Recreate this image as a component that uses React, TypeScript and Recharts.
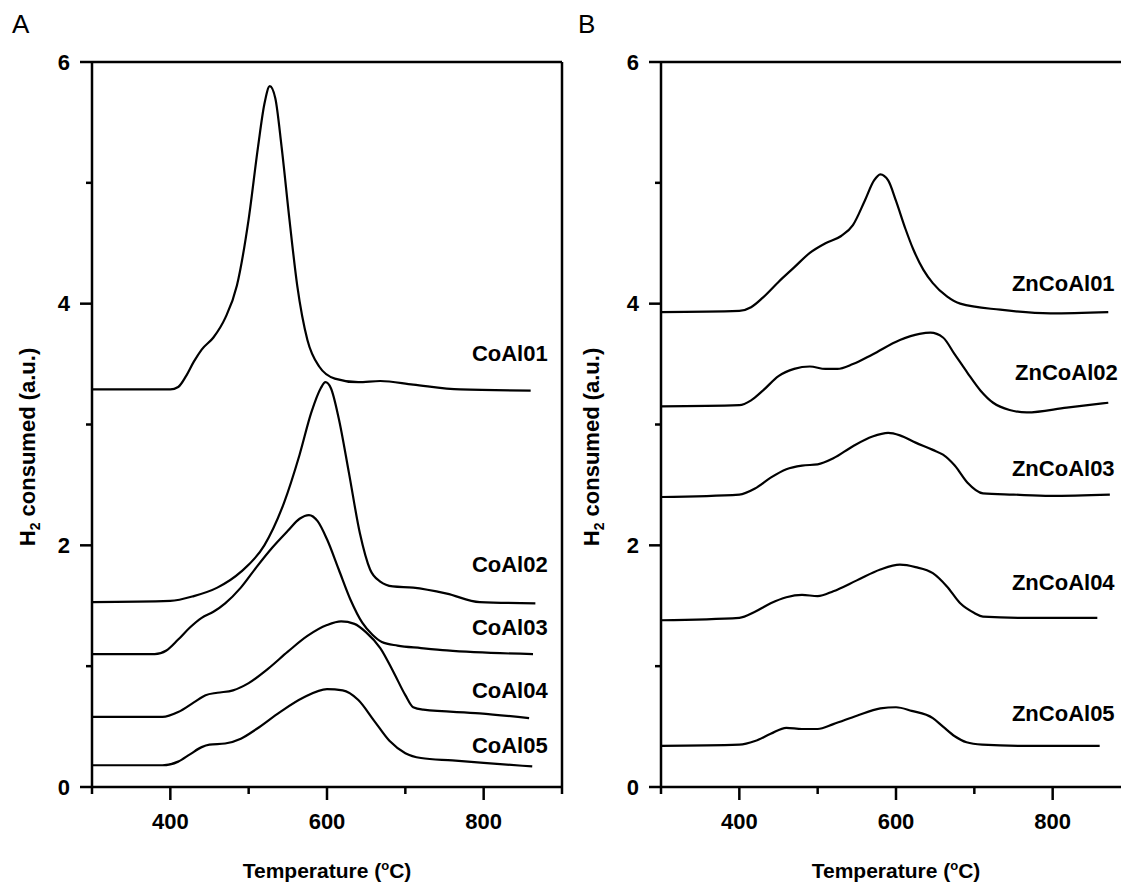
import React from 'react';
import { LineChart, Line, XAxis, YAxis, ReferenceLine, ReferenceDot } from 'recharts';

const FONT = '"Liberation Sans", Arial, Helvetica, sans-serif';

const X_TICKS = [300, 400, 500, 600, 700, 800, 900];
const X_LABELED = [400, 600, 800];
const Y_TICKS = [0, 1, 2, 3, 4, 5, 6];
const Y_LABELED = [0, 2, 4, 6];

// panel A
const CoAl01_T = [300, 400, 410, 420, 430, 440, 455, 470, 485, 500, 512, 520, 527, 534, 542, 552, 562, 575, 590, 610, 640, 668, 710, 770, 860];
const CoAl01_V = [3.29, 3.29, 3.31, 3.4, 3.52, 3.62, 3.72, 3.88, 4.15, 4.7, 5.3, 5.65, 5.8, 5.7, 5.3, 4.7, 4.15, 3.7, 3.48, 3.38, 3.35, 3.36, 3.33, 3.29, 3.28];
const CoAl02_T = [300, 400, 430, 460, 490, 520, 545, 565, 580, 592, 598, 605, 615, 628, 642, 655, 668, 684, 710, 753, 795, 866];
const CoAl02_V = [1.53, 1.54, 1.58, 1.65, 1.78, 2.0, 2.35, 2.75, 3.1, 3.3, 3.35, 3.3, 3.05, 2.6, 2.1, 1.8, 1.7, 1.66, 1.65, 1.6, 1.53, 1.52];
const CoAl03_T = [300, 380, 395, 410, 425, 440, 455, 470, 490, 510, 530, 550, 565, 577, 588, 600, 615, 630, 645, 658, 670, 690, 720, 753, 863];
const CoAl03_V = [1.1, 1.1, 1.13, 1.22, 1.32, 1.4, 1.45, 1.52, 1.65, 1.82, 1.98, 2.12, 2.22, 2.25, 2.2, 2.05, 1.8, 1.55, 1.36, 1.26, 1.2, 1.17, 1.15, 1.13, 1.1];
const CoAl04_T = [300, 390, 410, 430, 445, 460, 480, 500, 525, 550, 575, 600, 618, 635, 650, 668, 685, 700, 710, 723, 795, 858];
const CoAl04_V = [0.58, 0.58, 0.62, 0.7, 0.76, 0.78, 0.8, 0.86, 0.98, 1.12, 1.25, 1.34, 1.37, 1.35, 1.28, 1.15, 0.95, 0.76, 0.66, 0.64, 0.61, 0.57];
const CoAl05_T = [300, 390, 410, 425, 440, 450, 470, 490, 510, 540, 570, 600, 620, 640, 660, 680, 700, 720, 760, 800, 862];
const CoAl05_V = [0.18, 0.18, 0.21, 0.27, 0.33, 0.35, 0.36, 0.4, 0.48, 0.62, 0.74, 0.81, 0.8, 0.72, 0.55, 0.38, 0.28, 0.24, 0.22, 0.2, 0.17];

// panel B
const Zn01_T = [300, 400, 415, 430, 450, 470, 490, 510, 530, 545, 560, 572, 580, 590, 600, 612, 622, 635, 647, 665, 682, 733, 797, 871];
const Zn01_V = [3.93, 3.94, 3.97, 4.05, 4.18, 4.3, 4.42, 4.5, 4.56, 4.65, 4.85, 5.02, 5.07, 5.02, 4.85, 4.62, 4.45, 4.28, 4.17, 4.06, 4.0, 3.95, 3.92, 3.93];
const Zn02_T = [300, 400, 415, 430, 450, 470, 490, 510, 525, 545, 570, 605, 630, 644, 660, 675, 691, 708, 724, 745, 767, 818, 871];
const Zn02_V = [3.15, 3.16, 3.2, 3.28, 3.4, 3.46, 3.48, 3.46, 3.46, 3.5, 3.58, 3.7, 3.75, 3.76, 3.72, 3.58, 3.43, 3.28, 3.18, 3.12, 3.1, 3.14, 3.18];
const Zn03_T = [300, 400, 420, 440, 460, 480, 500, 520, 545, 570, 590, 605, 625, 647, 660, 675, 691, 711, 750, 797, 873];
const Zn03_V = [2.4, 2.42, 2.47, 2.56, 2.63, 2.66, 2.67, 2.72, 2.82, 2.9, 2.93, 2.91, 2.85, 2.79, 2.75, 2.66, 2.52, 2.43, 2.42, 2.41, 2.42];
const Zn04_T = [300, 400, 420, 440, 460, 480, 500, 520, 550, 580, 605, 625, 647, 665, 682, 700, 711, 760, 857];
const Zn04_V = [1.38, 1.4, 1.45, 1.52, 1.57, 1.59, 1.58, 1.62, 1.71, 1.8, 1.84, 1.82, 1.77, 1.66, 1.52, 1.44, 1.41, 1.4, 1.4];
const Zn05_T = [300, 400, 420, 440, 460, 480, 500, 520, 550, 580, 600, 620, 647, 660, 675, 690, 710, 760, 860];
const Zn05_V = [0.34, 0.35, 0.38, 0.44, 0.49, 0.48, 0.48, 0.52, 0.59, 0.65, 0.66, 0.63, 0.57, 0.5, 0.42, 0.37, 0.35, 0.34, 0.34];

// curve names and where their labels sit (temperature, value)
const NAMES_A = ['CoAl01', 'CoAl02', 'CoAl03', 'CoAl04', 'CoAl05'];
const LABEL_T_A = [785, 785, 785, 785, 785];
const LABEL_V_A = [3.59, 1.84, 1.32, 0.8, 0.34];
const NAMES_B = ['ZnCoAl01', 'ZnCoAl02', 'ZnCoAl03', 'ZnCoAl04', 'ZnCoAl05'];
const LABEL_T_B = [748, 752, 748, 748, 748];
const LABEL_V_B = [4.17, 3.43, 2.64, 1.69, 0.61];

const zip = (t: number[], v: number[]) => t.map((x, i) => ({ t: x, v: v[i] }));

const SERIES_A = [zip(CoAl01_T, CoAl01_V), zip(CoAl02_T, CoAl02_V), zip(CoAl03_T, CoAl03_V), zip(CoAl04_T, CoAl04_V), zip(CoAl05_T, CoAl05_V)];
const SERIES_B = [zip(Zn01_T, Zn01_V), zip(Zn02_T, Zn02_V), zip(Zn03_T, Zn03_V), zip(Zn04_T, Zn04_V), zip(Zn05_T, Zn05_V)];

function XTick(props: any) {
  const { x, y, payload } = props;
  const major = X_LABELED.includes(payload.value);
  return (
    <g>
      <line x1={x} x2={x} y1={y} y2={y + (major ? 13 : 7)} stroke="#000" strokeWidth={2.5} />
      {major && (
        <text x={x} y={y + 42} textAnchor="middle" fontFamily={FONT} fontWeight="bold" fontSize={22} fill="#000">
          {payload.value}
        </text>
      )}
    </g>
  );
}

function YTick(props: any) {
  const { x, y, payload } = props;
  const major = Y_LABELED.includes(payload.value);
  return (
    <g>
      <line x1={x - (major ? 12 : 6)} x2={x} y1={y} y2={y} stroke="#000" strokeWidth={2.5} />
      {major && (
        <text x={x - 22} y={y} textAnchor="end" dominantBaseline="central" fontFamily={FONT} fontWeight="bold" fontSize={22} fill="#000">
          {payload.value}
        </text>
      )}
    </g>
  );
}

function Panel({ series, names, labelT, labelV, left, width, rightBorder, titleX }: any) {
  return (
    <div style={{ position: 'absolute', left, top: 0 }}>
      <LineChart width={width} height={889} margin={{ top: 62, right: rightBorder ? 18 : 0, bottom: 0, left: 0 }}>
        <XAxis
          dataKey="t"
          type="number"
          domain={[300, 900]}
          ticks={X_TICKS}
          interval={0}
          allowDataOverflow
          height={102}
          tickSize={0}
          tickMargin={0}
          tickLine={false}
          tick={<XTick />}
          axisLine={{ stroke: '#000', strokeWidth: 2.5 }}
          label={{
            content: (p: any) => {
              const vb = p.viewBox;
              return (
                <text x={vb.x + vb.width / 2} y={vb.y + 91} textAnchor="middle" fontFamily={FONT} fontWeight="bold" fontSize={21} fill="#000">
                  Temperature (<tspan dy={-8} fontSize={13}>o</tspan><tspan dy={8}>C)</tspan>
                </text>
              );
            },
          }}
        />
        <YAxis
          type="number"
          domain={[0, 6]}
          ticks={Y_TICKS}
          interval={0}
          width={92}
          tickSize={0}
          tickMargin={0}
          tickLine={false}
          tick={<YTick />}
          axisLine={{ stroke: '#000', strokeWidth: 2.5 }}
          label={{
            content: (p: any) => {
              const vb = p.viewBox;
              const cy = vb.y + 385;
              return (
                <text x={titleX} y={cy} transform={`rotate(-90, ${titleX}, ${cy})`} textAnchor="middle" fontFamily={FONT} fontWeight="bold" fontSize={22} fill="#000">
                  H<tspan dy={5} fontSize={14}>2</tspan><tspan dy={-5}> consumed (a.u.)</tspan>
                </text>
              );
            },
          }}
        />
        <ReferenceLine y={6} stroke="#000" strokeWidth={2.5} />
        {rightBorder && <ReferenceLine x={900} stroke="#000" strokeWidth={2.5} />}
        {series.map((d: any, i: number) => (
          <Line
            key={names[i]}
            data={d}
            dataKey="v"
            type="monotone"
            stroke="#000"
            strokeWidth={2.2}
            dot={false}
            isAnimationActive={false}
          />
        ))}
        {names.map((n: string, i: number) => (
          <ReferenceDot
            key={'lbl' + n}
            x={labelT[i]}
            y={labelV[i]}
            r={0}
            ifOverflow="visible"
            shape={(s: any) => (
              <text x={s.cx} y={s.cy} dominantBaseline="central" fontFamily={FONT} fontWeight="bold" fontSize={22} fill="#000">
                {n}
              </text>
            )}
          />
        ))}
      </LineChart>
    </div>
  );
}

export default function App() {
  return (
    <div style={{ position: 'absolute', left: 0, top: 0, width: 1121, height: 889, overflow: 'hidden', background: '#fff', fontFamily: FONT }}>
      <div style={{ position: 'absolute', left: 12, top: 11, fontSize: 26, lineHeight: 1 }}>A</div>
      <div style={{ position: 'absolute', left: 578, top: 11, fontSize: 26, lineHeight: 1 }}>B</div>
      <Panel series={SERIES_A} names={NAMES_A} labelT={LABEL_T_A} labelV={LABEL_V_A} left={0} width={580} rightBorder titleX={35} />
      <Panel series={SERIES_B} names={NAMES_B} labelT={LABEL_T_B} labelV={LABEL_V_B} left={569} width={562} rightBorder={false} titleX={30} />
    </div>
  );
}
